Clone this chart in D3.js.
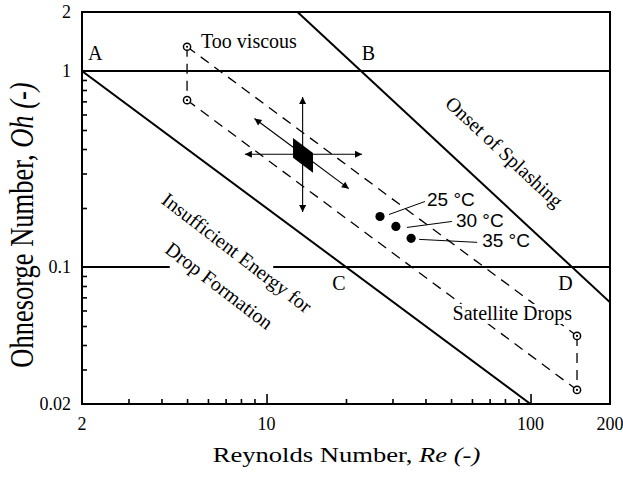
<!DOCTYPE html>
<html><head><meta charset="utf-8">
<script src="https://cdn.jsdelivr.net/npm/d3@7"></script>
<style>body{margin:0;background:#fff} svg{display:block}</style>
</head><body><svg id="c" width="623" height="482"></svg>
<script>
// ---------- data ----------
const xDomain = [2, 200];
const yDomain = [0.02, 2];
const xTickLabels = [2, 10, 100, 200];
const xMajorTicks = [10, 100];
const xMinorTicks = [3, 4, 5, 6, 7, 8, 9, 20, 30, 40, 50, 60, 70, 80, 90];
const yTickLabels = [0.02, 0.1, 1, 2];
const yMinorTicks = [0.03, 0.04, 0.05, 0.06, 0.07, 0.08, 0.09, 0.2, 0.3, 0.4, 0.5, 0.6, 0.7, 0.8, 0.9];

const ohLineFull = [[2, 1], [200, 1]];
const ohLineLowA = [[2, 0.1], [4.3, 0.1]];
const ohLineLowB = [[10.6, 0.1], [200, 0.1]];
const dropLimitRe = [2, 100];
const dropLimitOh = [1, 0.02];
const splashRe = [13.1, 200];
const splashOh = [2, 0.066];

const rangeRe = [5, 150];
const rangeUpperOh = [1.33, 0.0445];
const rangeLowerOh = [0.71, 0.0236];

const tempRe = [26.9, 30.9, 35.3];
const tempOh = [0.181, 0.161, 0.140];
const tempLabels = ["25 °C", "30 °C", "35 °C"];

const boxRe = [12.6, 15, 15, 12.6];
const boxOh = [0.455, 0.382, 0.303, 0.361];
const arrowCenter = [13.7, 0.376];
const arrowTipRe = [13.7, 13.7, 8.28, 23.0, 9.0, 20.5];
const arrowTipOh = [0.737, 0.191, 0.376, 0.376, 0.572, 0.251];

// ---------- layout ----------
const W = 623, H = 482;
const L = 82, R = 610, T = 12, B = 404;
const serif = "'Liberation Serif','Times New Roman',Times,serif";
const sans = "'Liberation Sans',Arial,Helvetica,sans-serif";

const svg = d3.select("#c");
const x = d3.scaleLog().domain(xDomain).range([L, R]);
const y = d3.scaleLog().domain(yDomain).range([B, T]);
const line = d3.line().x(d => x(d[0])).y(d => y(d[1]));
const zip = (a, b) => a.map((v, i) => [v, b[i]]);

const defs = svg.append("defs");
defs.append("marker").attr("id", "ah").attr("viewBox", "0 0 10 10")
  .attr("refX", 10).attr("refY", 5).attr("markerWidth", 11).attr("markerHeight", 7)
  .attr("markerUnits", "userSpaceOnUse").attr("orient", "auto")
  .append("path").attr("d", "M0,0L10,5L0,10Z").attr("fill", "#000");
defs.append("clipPath").attr("id", "clip").append("rect")
  .attr("x", L).attr("y", T).attr("width", R - L).attr("height", B - T);

const plot = svg.append("g").attr("clip-path", "url(#clip)");

// ticks
const tickStyle = g => { g.select(".domain").remove(); g.selectAll("line").attr("stroke", "#000").attr("stroke-width", 1.6); g.selectAll("text").remove(); };
svg.append("g").attr("transform", `translate(0,${B})`)
  .call(d3.axisBottom(x).tickValues(xMinorTicks).tickSize(-5).tickFormat("")).call(tickStyle);
svg.append("g").attr("transform", `translate(0,${B})`)
  .call(d3.axisBottom(x).tickValues(xMajorTicks).tickSize(-10).tickFormat("")).call(tickStyle);
svg.append("g").attr("transform", `translate(${L},0)`)
  .call(d3.axisLeft(y).tickValues(yMinorTicks).tickSize(-5).tickFormat("")).call(tickStyle);

// tick labels
svg.append("g").selectAll("text").data(xTickLabels).join("text")
  .attr("x", d => x(d)).attr("y", 430).attr("text-anchor", "middle")
  .attr("font-family", serif).attr("font-size", 18).text(d => d);
svg.append("g").selectAll("text").data(yTickLabels).join("text")
  .attr("x", 71).attr("y", d => y(d) + 6).attr("text-anchor", "end")
  .attr("font-family", serif).attr("font-size", 18).text(d => d);

// solid boundary lines
const solid = (pts, w) => plot.append("path").attr("d", line(pts)).attr("fill", "none").attr("stroke", "#000").attr("stroke-width", w);
solid(ohLineFull, 2);
solid(ohLineLowA, 2);
solid(ohLineLowB, 2);
solid(zip(dropLimitRe, dropLimitOh), 2);
solid(zip(splashRe, splashOh), 2);

// dashed operating range
const dashed = pts => plot.append("path").attr("d", line(pts)).attr("fill", "none")
  .attr("stroke", "#000").attr("stroke-width", 1.3).attr("stroke-dasharray", "10,7");
dashed(zip(rangeRe, rangeUpperOh));
dashed(zip(rangeRe, rangeLowerOh));
dashed([[rangeRe[0], rangeUpperOh[0]], [rangeRe[0], rangeLowerOh[0]]]);
dashed([[rangeRe[1], rangeUpperOh[1]], [rangeRe[1], rangeLowerOh[1]]]);

// open circles at corners
const corners = [[rangeRe[0], rangeUpperOh[0]], [rangeRe[0], rangeLowerOh[0]], [rangeRe[1], rangeUpperOh[1]], [rangeRe[1], rangeLowerOh[1]]];
const cg = svg.append("g");
cg.selectAll("circle.o").data(corners).join("circle").attr("class", "o")
  .attr("cx", d => x(d[0])).attr("cy", d => y(d[1])).attr("r", 3.6)
  .attr("fill", "#fff").attr("stroke", "#000").attr("stroke-width", 1.5);
cg.selectAll("circle.d").data(corners).join("circle").attr("class", "d")
  .attr("cx", d => x(d[0])).attr("cy", d => y(d[1])).attr("r", 1.1).attr("fill", "#000");

// parallelogram + arrows
svg.append("path").attr("d", line(zip(boxRe, boxOh)) + "Z").attr("fill", "#000");
svg.append("g").selectAll("line").data(zip(arrowTipRe, arrowTipOh)).join("line")
  .attr("x1", x(arrowCenter[0])).attr("y1", y(arrowCenter[1]))
  .attr("x2", d => x(d[0])).attr("y2", d => y(d[1]))
  .attr("stroke", "#000").attr("stroke-width", 1.1).attr("marker-end", "url(#ah)");

// temperature points with leader lines
const leader = [[9, -2, 45, -15, 47, -10], [11, 1, 56, -5, 60, 1], [8, 1, 66, 4, 71, 9]];
const tg = svg.append("g");
zip(tempRe, tempOh).forEach((d, i) => {
  const px = x(d[0]), py = y(d[1]), o = leader[i];
  tg.append("circle").attr("cx", px).attr("cy", py).attr("r", 4.6).attr("fill", "#000");
  tg.append("line").attr("x1", px + o[0]).attr("y1", py + o[1]).attr("x2", px + o[2]).attr("y2", py + o[3])
    .attr("stroke", "#000").attr("stroke-width", 1);
  tg.append("text").attr("x", px + o[4]).attr("y", py + o[5])
    .attr("font-family", sans).attr("font-size", 19).text(tempLabels[i]);
});

// annotations
const ann = svg.append("g").attr("font-family", serif).attr("font-size", 20);
ann.append("text").attr("x", x(2) + 6).attr("y", y(1) - 11).text("A");
ann.append("text").attr("x", x(22.9) + 7).attr("y", y(1) - 11).attr("text-anchor", "middle").text("B");
ann.append("text").attr("x", x(20) - 7).attr("y", y(0.1) + 23).attr("text-anchor", "middle").text("C");
ann.append("text").attr("x", x(144.3) - 7).attr("y", y(0.1) + 23).attr("text-anchor", "middle").text("D");
ann.append("text").attr("x", x(rangeRe[0]) + 14).attr("y", y(rangeUpperOh[0]) + 1).text("Too viscous");

const sat = ann.append("text").attr("x", x(rangeRe[1]) - 5).attr("y", y(rangeUpperOh[1]) - 16)
  .attr("text-anchor", "end").text("Satellite Drops");
const bb = sat.node().getBBox();
ann.insert("rect", "text:last-child").attr("x", bb.x - 1).attr("y", bb.y + 2)
  .attr("width", bb.width + 2).attr("height", bb.height - 3).attr("fill", "#fff");

const rot = (re, oh, ang, txt) => ann.append("text")
  .attr("transform", `translate(${x(re)},${y(oh)}) rotate(${ang})`)
  .attr("text-anchor", "middle").text(txt);
rot(7.45, 0.111, 37.5, "Insufficient Energy for");
rot(6.38, 0.0754, 37.5, "Drop Formation");
rot(76.4, 0.365, 43, "Onset of Splashing");

// frame
svg.append("rect").attr("x", L).attr("y", T).attr("width", R - L).attr("height", B - T)
  .attr("fill", "none").attr("stroke", "#000").attr("stroke-width", 2);

// axis titles
const xt = svg.append("text").attr("transform", `translate(346.5,462) scale(1.33,1)`)
  .attr("text-anchor", "middle").attr("font-family", serif).attr("font-size", 20);
xt.append("tspan").text("Reynolds Number, ");
xt.append("tspan").attr("font-style", "italic").text("Re (-)");

const yt = svg.append("text").attr("transform", `translate(33,225) scale(1.3,1) rotate(-90)`)
  .attr("text-anchor", "middle").attr("font-family", serif).attr("font-size", 26.5);
yt.append("tspan").text("Ohnesorge Number, ");
yt.append("tspan").attr("font-style", "italic").text("Oh (-)");
</script>
</body></html>
